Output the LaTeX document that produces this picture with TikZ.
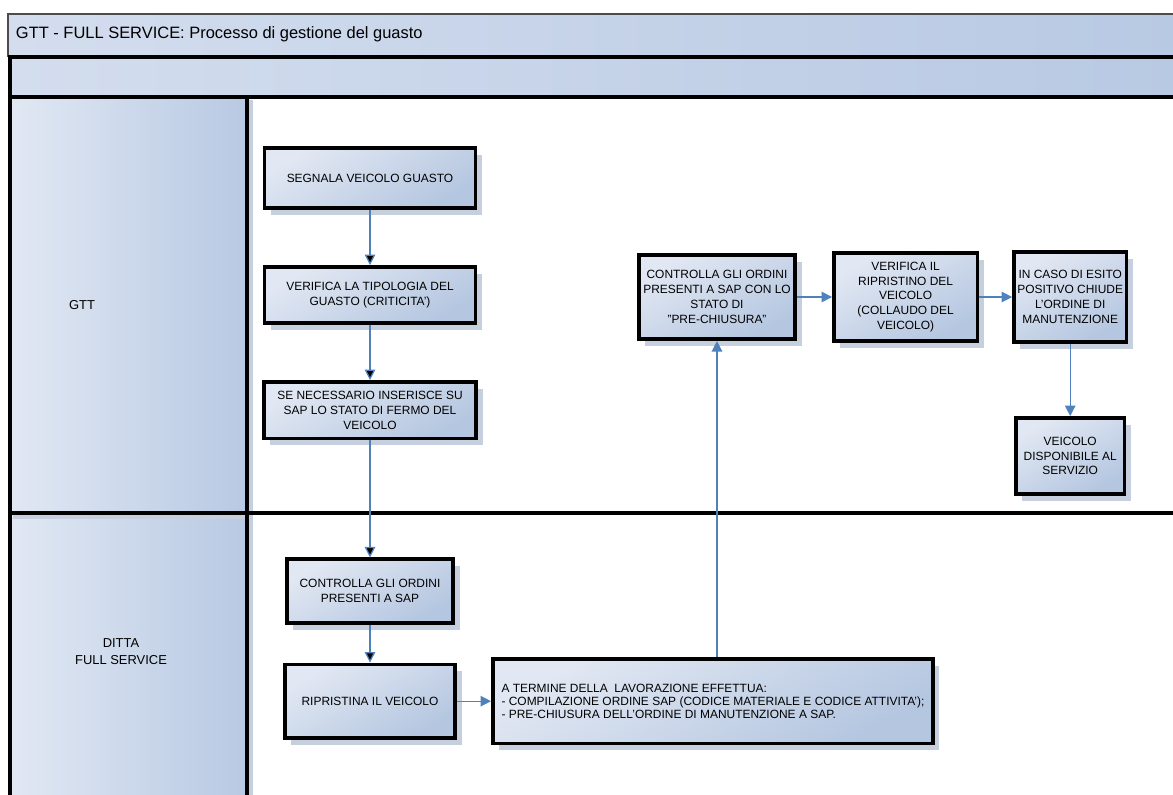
\documentclass[tikz,border=0pt]{standalone}
\usepackage{fontspec}
\setmainfont{Liberation Sans}
\usetikzlibrary{arrows.meta,positioning,shadows}

\definecolor{flowblue}{HTML}{4F81BD}
\definecolor{boxlight}{HTML}{E2E8F3}
\definecolor{boxdark}{HTML}{B4C6E0}
\definecolor{barlight}{HTML}{D3DDEE}
\definecolor{bardark}{HTML}{B8C9E3}
\definecolor{lanelight}{HTML}{E1E8F3}
\definecolor{shadowblue}{HTML}{C6CFDE}

\tikzset{
  task/.style={rectangle, draw=black, line width=2.6pt, top color=boxlight, bottom color=boxdark, shading angle=30,
    general shadow={fill=shadowblue, shadow xshift=4.5pt, shadow yshift=-5pt},
    align=center, inner sep=1pt, font=\fontsize{8.5}{10.5}\selectfont},
  flow/.style={->, draw=flowblue, line width=0.9pt},
  lane/.style={align=center, font=\fontsize{9.2}{12}\selectfont}
}

\begin{document}
\begin{tikzpicture}[x=0.025cm, y=-0.025cm, node distance=1.375cm and 0.85cm, >={Triangle[length=7.5pt,width=7.5pt]}]
  \clip (0,0) rectangle (1173,795);

  % title and header bars
  \fill[left color=barlight, right color=bardark] (8,14) rectangle (1180,56);
  \draw[black!70, line width=0.8pt] (1180,14) -- (8,14) -- (8,56) -- (1180,56);
  \node[anchor=west, font=\fontsize{11.7}{14}\selectfont] (title) at (11,34) {GTT - FULL SERVICE: Processo di gestione del guasto};
  \fill[left color=barlight, right color=bardark] (10,57) rectangle (1180,97);

  % lanes
  \fill[left color=lanelight, right color=bardark] (10,97) rectangle (247,513);
  \fill[left color=lanelight, right color=bardark] (10,513) rectangle (247,800);
  \draw[shadowblue, line width=2.4pt] (251,100) -- (251,800);
  \draw[shadowblue, line width=2.4pt] (13,517) -- (251,517);
  \draw[line width=2.2pt] (1180,57) -- (10,57) -- (10,800);
  \draw[line width=2.2pt] (10,97) -- (1180,97);
  \draw[line width=2.2pt] (247,97) -- (247,800);
  \draw[line width=2.2pt] (10,513) -- (1180,513);
  \node[lane] (gtt) at (82,305) {GTT};
  \node[lane] (ditta) at (121,652) {DITTA\\FULL SERVICE};

  % GTT
  \node[task, minimum width=5.28cm, minimum height=1.51cm] (1) at (370,178) {SEGNALA VEICOLO GUASTO};
  \node[task, minimum width=5.28cm, minimum height=1.41cm] (2) [below=of 1] {VERIFICA LA TIPOLOGIA DEL\\GUASTO (CRITICITA')};
  \node[task, minimum width=5.31cm, minimum height=1.41cm] (3) [below=of 2] {SE NECESSARIO INSERISCE SU\\SAP LO STATO DI FERMO DEL\\VEICOLO};
  \node[task, minimum width=3.91cm, minimum height=2.11cm] (7) at (717,297) {CONTROLLA GLI ORDINI\\PRESENTI A SAP CON LO\\STATO DI\\"PRE-CHIUSURA"};
  \node[task, minimum width=3.585cm, minimum height=2.21cm] (8) [right=0.875cm of 7] {VERIFICA IL\\RIPRISTINO DEL\\VEICOLO\\(COLLAUDO DEL\\VEICOLO)};
  \node[task, minimum width=2.81cm, minimum height=2.26cm] (9) [right=0.825cm of 8] {IN CASO DI ESITO\\POSITIVO CHIUDE\\L'ORDINE DI\\MANUTENZIONE};
  \node[task, minimum width=2.71cm, minimum height=1.91cm] (10) [below=1.8cm of 9] {VEICOLO\\DISPONIBILE AL\\SERVIZIO};

  % ditta full service
  \node[task, minimum width=4.16cm, minimum height=1.585cm] (4) at (370,591) {CONTROLLA GLI ORDINI\\PRESENTI A SAP};
  \node[task, minimum width=4.26cm, minimum height=1.84cm] (5) [below=0.95cm of 4] {RIPRISTINA IL VEICOLO};
  \node[task, minimum width=11.0cm, minimum height=2.11cm, align=left, font=\fontsize{8.5}{9.2}\selectfont] (6) [right=0.85cm of 5]
    {A TERMINE DELLA \ LAVORAZIONE EFFETTUA:\\- COMPILAZIONE ORDINE SAP (CODICE MATERIALE E CODICE ATTIVITA');\\- PRE-CHIUSURA DELL'ORDINE DI MANUTENZIONE A SAP.};

  \draw[flow] (1) edge (2);
  \draw[flow] (2) edge (3);
  \draw[flow] (3) edge (4);
  \draw[flow] (4) edge (5);
  \draw[flow] (5) -- (6);
  \draw[flow] (6.north -| 7.south) -- (7.south);
  \draw[flow] (7) -- (8);
  \draw[flow] (8) -- (9);
  \draw[flow] (9) -- (10);
\end{tikzpicture}
\end{document}
